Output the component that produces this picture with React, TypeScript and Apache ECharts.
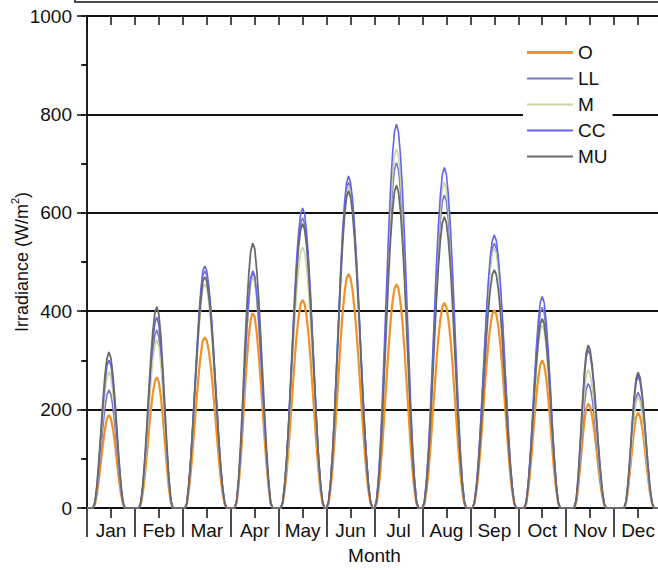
import React, { useEffect, useRef } from "react";
import * as echarts from "echarts";

const months = ["Jan", "Feb", "Mar", "Apr", "May", "Jun", "Jul", "Aug", "Sep", "Oct", "Nov", "Dec"];
const yTicks = [0, 200, 400, 600, 800, 1000];

// Peak irradiance per month (W/m²)
const peakO = [189, 266, 347, 396, 423, 476, 455, 417, 402, 300, 212, 194];
const peakLL = [240, 362, 482, 478, 590, 662, 702, 636, 538, 408, 253, 235];
const peakM = [277, 342, 455, 470, 530, 655, 730, 662, 528, 372, 281, 226];
const peakCC = [301, 388, 492, 482, 610, 675, 780, 692, 555, 430, 322, 268];
const peakMU = [317, 409, 470, 538, 578, 645, 656, 592, 484, 385, 331, 276];

// Relative hourly shape of the mean day in each month (hours 0..23)
const jan = [0, 0, 0, 0, 0.04, 0.15, 0.31, 0.5, 0.69, 0.85, 0.96, 1, 0.96, 0.85, 0.69, 0.5, 0.31, 0.15, 0.04, 0, 0, 0, 0, 0];
const feb = [0, 0, 0, 0.03, 0.12, 0.25, 0.41, 0.59, 0.75, 0.88, 0.97, 1, 0.96, 0.85, 0.69, 0.5, 0.31, 0.15, 0.04, 0, 0, 0, 0, 0];
const mar = [0, 0, 0.02, 0.1, 0.21, 0.35, 0.5, 0.65, 0.79, 0.9, 0.98, 1, 0.98, 0.92, 0.83, 0.71, 0.57, 0.43, 0.29, 0.17, 0.08, 0.02, 0, 0];
const apr = [0, 0, 0, 0.03, 0.12, 0.25, 0.41, 0.59, 0.75, 0.88, 0.97, 1, 0.98, 0.9, 0.79, 0.65, 0.5, 0.35, 0.21, 0.1, 0.02, 0, 0, 0];
const may = [0, 0, 0.02, 0.08, 0.17, 0.29, 0.43, 0.57, 0.71, 0.83, 0.92, 0.98, 1, 0.98, 0.92, 0.83, 0.71, 0.57, 0.43, 0.29, 0.17, 0.08, 0.02, 0];
const jun = [0, 0.02, 0.08, 0.17, 0.29, 0.43, 0.57, 0.71, 0.83, 0.92, 0.98, 1, 0.98, 0.93, 0.85, 0.75, 0.63, 0.5, 0.37, 0.25, 0.15, 0.07, 0.02, 0];
const jul = [0, 0.02, 0.08, 0.17, 0.29, 0.43, 0.57, 0.71, 0.83, 0.92, 0.98, 1, 0.98, 0.92, 0.83, 0.71, 0.57, 0.43, 0.29, 0.17, 0.08, 0.02, 0, 0];
const aug = [0, 0.02, 0.08, 0.17, 0.29, 0.43, 0.57, 0.71, 0.83, 0.92, 0.98, 1, 0.98, 0.92, 0.83, 0.71, 0.57, 0.43, 0.29, 0.17, 0.08, 0.02, 0, 0];
const sep = [0, 0, 0.02, 0.08, 0.17, 0.29, 0.43, 0.57, 0.71, 0.83, 0.92, 0.98, 1, 0.98, 0.92, 0.83, 0.71, 0.57, 0.43, 0.29, 0.17, 0.08, 0.02, 0];
const oct = [0, 0, 0, 0, 0.03, 0.12, 0.25, 0.41, 0.59, 0.75, 0.88, 0.97, 1, 0.97, 0.88, 0.75, 0.59, 0.41, 0.25, 0.12, 0.03, 0, 0, 0];
const nov = [0, 0, 0, 0, 0, 0.05, 0.19, 0.39, 0.61, 0.81, 0.95, 1, 0.97, 0.88, 0.75, 0.59, 0.41, 0.25, 0.12, 0.03, 0, 0, 0, 0];
const dec = [0, 0, 0, 0, 0, 0, 0.05, 0.19, 0.39, 0.61, 0.81, 0.95, 1, 0.96, 0.85, 0.69, 0.5, 0.31, 0.15, 0.04, 0, 0, 0, 0];
const dayProfiles = [jan, feb, mar, apr, may, jun, jul, aug, sep, oct, nov, dec];

const seriesNames = ["O", "LL", "M", "CC", "MU"];
const seriesPeaks = [peakO, peakLL, peakM, peakCC, peakMU];
const seriesColors = ["#f39029", "#7a78c6", "#c9d6a3", "#6464ee", "#6a6a6a"];
const seriesWidths = [2.2, 1.6, 1.6, 1.6, 1.8];

function buildData(peaks: number[]) {
  const out: [number, number][] = [];
  dayProfiles.forEach((prof, m) => {
    prof.forEach((f, h) => {
      out.push([m * 24 + h, Math.round(peaks[m] * f * 10) / 10]);
    });
  });
  out.push([288, 0]);
  return out;
}

const FONT = "'Liberation Sans', Arial, Helvetica, sans-serif";

export default function App() {
  const ref = useRef<HTMLDivElement>(null);
  useEffect(() => {
    if (!ref.current) return;
    const chart = echarts.init(ref.current, undefined, { renderer: "svg" });
    const axisLineStyle = { color: "#111", width: 1.5 };
    chart.setOption({
      animation: false,
      backgroundColor: "#fff",
      textStyle: { fontFamily: FONT },
      grid: {
        left: 87,
        top: 16,
        width: 575,
        height: 492,
        containLabel: false,
        outerBoundsMode: "none",
      },
      graphic: [
        {
          type: "rect",
          shape: { x: 75, y: -40, width: 700, height: 42 },
          style: { fill: "none", stroke: "#111", lineWidth: 1.5 },
          z: 100,
        },
      ],
      legend: {
        orient: "vertical",
        left: 523,
        top: 38,
        padding: [5, 5, 5, 4],
        backgroundColor: "#fff",
        itemWidth: 46,
        itemHeight: 14,
        itemGap: 7,
        itemTextGap: 7,
        symbolKeepAspect: true,
        data: seriesNames.map((n, i) => ({
          name: n,
          icon: i === 0 ? "path://M0,0h46v3h-46z" : "path://M0,0h46v2h-46z",
        })),
        textStyle: { fontSize: 19, color: "#111", fontFamily: FONT },
        z: 10,
      },
      xAxis: [
        {
          type: "value",
          min: 0,
          max: 288,
          interval: 24,
          position: "bottom",
          axisLine: { show: true, lineStyle: axisLineStyle },
          axisTick: { show: true, inside: false, length: 29, lineStyle: axisLineStyle },
          axisLabel: { show: false },
          splitLine: { show: false },
        },
        {
          type: "category",
          data: months,
          position: "bottom",
          boundaryGap: true,
          axisLine: { show: false },
          axisTick: { show: true, alignWithLabel: true, length: 10, lineStyle: axisLineStyle },
          axisLabel: { show: true, fontSize: 19, color: "#111", margin: 13, fontFamily: FONT },
          splitLine: { show: false },
          name: "Month",
          nameLocation: "middle",
          nameGap: 38,
          nameMoveOverlap: false,
          nameTextStyle: { fontSize: 19, color: "#111", fontFamily: FONT },
        },
        {
          type: "value",
          min: 0,
          max: 288,
          interval: 12,
          position: "top",
          axisLine: { show: true, lineStyle: axisLineStyle },
          axisTick: { show: true, inside: true, length: 9, lineStyle: axisLineStyle },
          axisLabel: { show: false },
          splitLine: { show: false },
        },
      ],
      yAxis: [
        {
          type: "value",
          min: 0,
          max: 1000,
          interval: 200,
          position: "left",
          axisLine: { show: true, lineStyle: axisLineStyle },
          axisTick: { show: true, inside: false, length: 10, lineStyle: axisLineStyle },
          minorTick: { show: true, splitNumber: 2, length: 6, lineStyle: axisLineStyle },
          axisLabel: {
            show: true,
            fontSize: 19,
            color: "#111",
            margin: 15,
            fontFamily: FONT,
            formatter: (v: number) => (yTicks.includes(v) ? String(v) : ""),
          },
          splitLine: { show: true, lineStyle: { color: "#111", width: 1.8 } },
          name: "{a|Irradiance (W/m}{sup|2}{a|)}",
          nameLocation: "middle",
          nameGap: 56,
          nameMoveOverlap: false,
          nameTextStyle: {
            color: "#111",
            fontFamily: FONT,
            rich: {
              a: { fontSize: 18, lineHeight: 22, color: "#111", fontFamily: FONT, verticalAlign: "bottom" },
              sup: { fontSize: 11, lineHeight: 22, color: "#111", fontFamily: FONT, verticalAlign: "top" },
            },
          },
        },
        {
          type: "value",
          min: 0,
          max: 1000,
          interval: 200,
          position: "right",
          axisLine: { show: true, lineStyle: axisLineStyle },
          axisTick: { show: true, inside: true, length: 6, lineStyle: axisLineStyle },
          minorTick: { show: true, splitNumber: 2, length: 5, lineStyle: axisLineStyle },
          axisLabel: { show: false },
          splitLine: { show: false },
        },
      ],
      series: seriesNames.map((name, i) => ({
        name,
        type: "line",
        xAxisIndex: 0,
        yAxisIndex: 0,
        data: buildData(seriesPeaks[i]),
        symbol: "none",
        showSymbol: false,
        color: seriesColors[i],
        lineStyle: { color: seriesColors[i], width: seriesWidths[i] },
        z: 2 + i,
      })),
    });
    return () => chart.dispose();
  }, []);
  return (
    <div
      ref={ref}
      style={{ position: "fixed", left: 0, top: 0, width: 700, height: 570, background: "#fff" }}
    />
  );
}
